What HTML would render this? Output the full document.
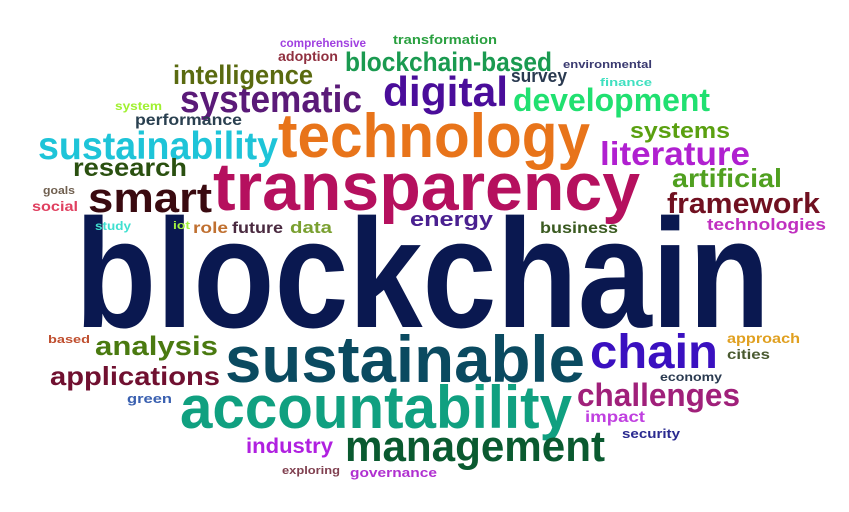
<!DOCTYPE html>
<html><head><meta charset="utf-8"><style>
html,body{margin:0;padding:0;background:#fff;}
svg{display:block;}
text{font-family:"Liberation Sans",Arial,sans-serif;font-weight:bold;}
</style></head><body>
<svg width="849" height="512" viewBox="0 0 849 512">
<rect width="849" height="512" fill="#fff"/>
<text x="75" y="327" font-size="155" fill="#0a1850" textLength="695" lengthAdjust="spacingAndGlyphs">blockchain</text>
<text x="213" y="210" font-size="68" fill="#b5105e" textLength="427" lengthAdjust="spacingAndGlyphs">transparency</text>
<text x="278" y="157" font-size="62" fill="#e8741a" textLength="312" lengthAdjust="spacingAndGlyphs">technology</text>
<text x="38" y="159" font-size="39" fill="#1ec4d8" textLength="240" lengthAdjust="spacingAndGlyphs">sustainability</text>
<text x="180" y="112" font-size="38" fill="#5a1a78" textLength="182" lengthAdjust="spacingAndGlyphs">systematic</text>
<text x="383" y="106" font-size="42" fill="#4a0d9a" textLength="125" lengthAdjust="spacingAndGlyphs">digital</text>
<text x="173" y="84" font-size="27" fill="#5a6a10" textLength="140" lengthAdjust="spacingAndGlyphs">intelligence</text>
<text x="345" y="71" font-size="27" fill="#1a9a50" textLength="207" lengthAdjust="spacingAndGlyphs">blockchain-based</text>
<text x="280" y="47" font-size="12" fill="#a040e0" textLength="86" lengthAdjust="spacingAndGlyphs">comprehensive</text>
<text x="393" y="44" font-size="13" fill="#2aa040" textLength="104" lengthAdjust="spacingAndGlyphs">transformation</text>
<text x="278" y="61" font-size="14" fill="#903040" textLength="60" lengthAdjust="spacingAndGlyphs">adoption</text>
<text x="563" y="68" font-size="11" fill="#3a3a70" textLength="89" lengthAdjust="spacingAndGlyphs">environmental</text>
<text x="511" y="82" font-size="18" fill="#2a3a50" textLength="56" lengthAdjust="spacingAndGlyphs">survey</text>
<text x="600" y="86" font-size="11" fill="#40e0c0" textLength="52" lengthAdjust="spacingAndGlyphs">finance</text>
<text x="513" y="111" font-size="32" fill="#20e070" textLength="197" lengthAdjust="spacingAndGlyphs">development</text>
<text x="115" y="110" font-size="12" fill="#a0f030" textLength="47" lengthAdjust="spacingAndGlyphs">system</text>
<text x="135" y="125" font-size="16" fill="#2a4050" textLength="107" lengthAdjust="spacingAndGlyphs">performance</text>
<text x="630" y="138" font-size="22" fill="#5aa010" textLength="100" lengthAdjust="spacingAndGlyphs">systems</text>
<text x="600" y="165" font-size="33" fill="#b020d0" textLength="150" lengthAdjust="spacingAndGlyphs">literature</text>
<text x="672" y="187" font-size="26" fill="#50a020" textLength="110" lengthAdjust="spacingAndGlyphs">artificial</text>
<text x="667" y="213" font-size="29" fill="#701020" textLength="153" lengthAdjust="spacingAndGlyphs">framework</text>
<text x="707" y="230" font-size="17" fill="#c030c0" textLength="119" lengthAdjust="spacingAndGlyphs">technologies</text>
<text x="73" y="176" font-size="25" fill="#2a5010" textLength="114" lengthAdjust="spacingAndGlyphs">research</text>
<text x="88" y="212" font-size="42" fill="#3a0a10" textLength="124" lengthAdjust="spacingAndGlyphs">smart</text>
<text x="43" y="194" font-size="11" fill="#706050" textLength="32" lengthAdjust="spacingAndGlyphs">goals</text>
<text x="32" y="211" font-size="14" fill="#e04060" textLength="46" lengthAdjust="spacingAndGlyphs">social</text>
<text x="410" y="226" font-size="20" fill="#4a2090" textLength="83" lengthAdjust="spacingAndGlyphs">energy</text>
<text x="540" y="233" font-size="16" fill="#3a5a20" textLength="78" lengthAdjust="spacingAndGlyphs">business</text>
<text x="95" y="230" font-size="12" fill="#40e0d0" textLength="36" lengthAdjust="spacingAndGlyphs">study</text>
<text x="173" y="229" font-size="11" fill="#a0f040" textLength="17" lengthAdjust="spacingAndGlyphs">iot</text>
<text x="193" y="233" font-size="16" fill="#c07030" textLength="35" lengthAdjust="spacingAndGlyphs">role</text>
<text x="232" y="233" font-size="16" fill="#4a2a40" textLength="51" lengthAdjust="spacingAndGlyphs">future</text>
<text x="290" y="233" font-size="17" fill="#7aa030" textLength="42" lengthAdjust="spacingAndGlyphs">data</text>
<text x="48" y="343" font-size="11" fill="#c05030" textLength="42" lengthAdjust="spacingAndGlyphs">based</text>
<text x="95" y="355" font-size="27" fill="#4a7a10" textLength="123" lengthAdjust="spacingAndGlyphs">analysis</text>
<text x="225" y="382" font-size="66" fill="#0a4a60" textLength="360" lengthAdjust="spacingAndGlyphs">sustainable</text>
<text x="590" y="368" font-size="48" fill="#3a10c0" textLength="128" lengthAdjust="spacingAndGlyphs">chain</text>
<text x="727" y="343" font-size="14" fill="#e0a020" textLength="73" lengthAdjust="spacingAndGlyphs">approach</text>
<text x="727" y="359" font-size="14" fill="#4a5a30" textLength="43" lengthAdjust="spacingAndGlyphs">cities</text>
<text x="50" y="385" font-size="26" fill="#701030" textLength="170" lengthAdjust="spacingAndGlyphs">applications</text>
<text x="660" y="381" font-size="12" fill="#2a3a50" textLength="62" lengthAdjust="spacingAndGlyphs">economy</text>
<text x="577" y="406" font-size="32" fill="#a0207a" textLength="163" lengthAdjust="spacingAndGlyphs">challenges</text>
<text x="127" y="403" font-size="13" fill="#3a60b0" textLength="45" lengthAdjust="spacingAndGlyphs">green</text>
<text x="180" y="428" font-size="60" fill="#10a080" textLength="392" lengthAdjust="spacingAndGlyphs">accountability</text>
<text x="585" y="422" font-size="16" fill="#c040e0" textLength="60" lengthAdjust="spacingAndGlyphs">impact</text>
<text x="622" y="438" font-size="13" fill="#2a2a90" textLength="58" lengthAdjust="spacingAndGlyphs">security</text>
<text x="246" y="453" font-size="21" fill="#b020e0" textLength="87" lengthAdjust="spacingAndGlyphs">industry</text>
<text x="345" y="461" font-size="44" fill="#0a5a30" textLength="260" lengthAdjust="spacingAndGlyphs">management</text>
<text x="282" y="474" font-size="11" fill="#804050" textLength="58" lengthAdjust="spacingAndGlyphs">exploring</text>
<text x="350" y="477" font-size="13" fill="#b030d0" textLength="87" lengthAdjust="spacingAndGlyphs">governance</text>
</svg>
</body></html>
